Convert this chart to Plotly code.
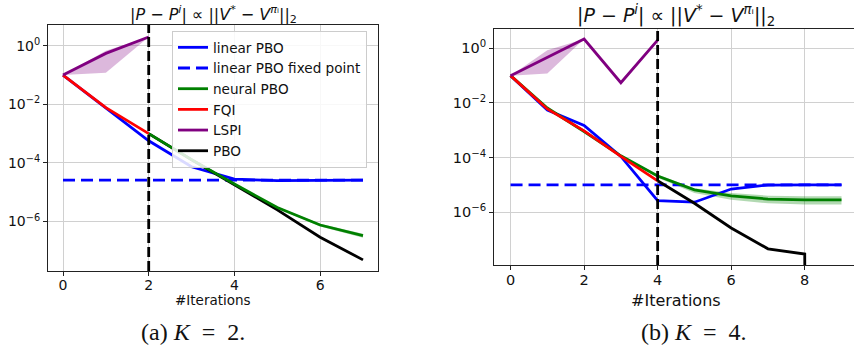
import plotly.graph_objects as go
import numpy as np

# ---------------- data ----------------
# Left panel (K = 2)
K_left = 2
x_left = [0, 1, 2, 3, 4, 5, 6, 7]
lin_left = [0.1, 0.0075, 5.7e-4, 7.4e-5, 2.8e-5, 2.5e-5, 2.6e-5, 2.6e-5]
fixed_left = 2.6e-5
neural_x_left = [2, 3, 4, 5, 6, 7]
neural_left = [1.0e-3, 1.3e-4, 1.9e-5, 3.0e-6, 7.6e-7, 3.3e-7]
neural_lo_left = [1.0e-3, 1.25e-4, 1.8e-5, 2.8e-6, 6.8e-7, 2.8e-7]
neural_hi_left = [1.0e-3, 1.35e-4, 2.0e-5, 3.2e-6, 8.4e-7, 3.8e-7]
fqi_x_left = [0, 1, 2]
fqi_left = [0.1, 0.0077, 1.0e-3]
lspi_x_left = [0, 1, 2]
lspi_left = [0.1, 0.55, 2.0]
lspi_lo_left = [0.1, 0.12, 2.0]
lspi_hi_left = [0.1, 0.68, 2.0]
pbo_x_left = [2, 3, 4, 5, 6, 7]
pbo_left = [1.0e-3, 1.28e-4, 1.8e-5, 2.5e-6, 2.9e-7, 4.9e-8]

# Right panel (K = 4)
K_right = 4
x_right = [0, 1, 2, 3, 4, 5, 6, 7, 8, 9]
lin_right = [0.1, 0.0055, 1.5e-3, 1.1e-4, 2.6e-6, 2.3e-6, 7.0e-6, 9.8e-6, 1.0e-5, 1.0e-5]
fixed_right = 1.0e-5
neural_right = [0.1, 0.0065, 9.0e-4, 1.15e-4, 2.1e-5, 6.5e-6, 3.9e-6, 3.0e-6, 2.8e-6, 2.8e-6]
neural_lo_right = [0.1, 0.0062, 8.6e-4, 1.1e-4, 1.8e-5, 5.0e-6, 2.8e-6, 2.1e-6, 1.9e-6, 1.9e-6]
neural_hi_right = [0.1, 0.0068, 9.4e-4, 1.2e-4, 2.4e-5, 7.5e-6, 5.0e-6, 4.0e-6, 3.8e-6, 3.8e-6]
fqi_x_right = [0, 1, 2, 3, 4]
fqi_right = [0.1, 0.006, 9.5e-4, 1.1e-4, 1.4e-5]
lspi_x_right = [0, 1, 2, 3, 4]
lspi_right = [0.1, 0.47, 2.2, 0.055, 2.0]
lspi_lo_right = [0.1, 0.12, 2.2, 0.055, 2.0]
lspi_hi_right = [0.1, 0.85, 2.2, 0.055, 2.0]
pbo_x_right = [4, 5, 6, 7, 8, 9]
pbo_right = [1.4e-5, 2.1e-6, 2.6e-7, 4.5e-8, 2.9e-8, 0.0]

ytick_vals = [1, 1e-2, 1e-4, 1e-6]
ytick_text = ["10<sup>0</sup>", "10<sup>−2</sup>", "10<sup>−4</sup>", "10<sup>−6</sup>"]
xticks_left = [0, 2, 4, 6]
xticks_right = [0, 2, 4, 6, 8]
names = ["linear PBO", "linear PBO fixed point", "neural PBO", "FQI", "LSPI", "PBO"]
title_text = "|<i>P</i> − <i>P<sup>i</sup></i>| ∝ ||<i>V</i><sup>*</sup> − <i>V</i><sup><i>π</i>ᵢ</sup>||<sub>2</sub>"
captions = ["(a) <i>K</i>\u00a0 =\u00a0 2.", "(b) <i>K</i>\u00a0 =\u00a0 4."]

# ---------------- styling ----------------
BLUE = "#0000ff"
GREEN = "#008000"
RED = "#ff0000"
PURPLE = "#800080"
BLACK = "#000000"
LW = 2.8
FONT = "DejaVu Sans"


def clip(v):
    # mimic matplotlib's log 'clip' behaviour for non-positive values
    return [x if x > 0 else 1e-300 for x in v]


fig = go.Figure()


def band(x, lo, hi, color, xa, ya):
    fig.add_trace(go.Scatter(x=x, y=lo, mode="lines", line=dict(width=0), hoverinfo="skip",
                             showlegend=False, xaxis=xa, yaxis=ya))
    fig.add_trace(go.Scatter(x=x, y=hi, mode="lines", line=dict(width=0), fill="tonexty",
                             fillcolor=color, hoverinfo="skip", showlegend=False, xaxis=xa, yaxis=ya))


def line(x, y, color, name, xa, ya, show, rank, dash="solid"):
    fig.add_trace(go.Scatter(x=x, y=clip(y), mode="lines", name=name,
                             line=dict(color=color, width=LW, dash=dash), legendrank=rank,
                             showlegend=show, xaxis=xa, yaxis=ya))


# left panel
band(lspi_x_left, lspi_lo_left, lspi_hi_left, "rgba(128,0,128,0.28)", "x", "y")
band(neural_x_left, neural_lo_left, neural_hi_left, "rgba(0,128,0,0.3)", "x", "y")
line(x_left, lin_left, BLUE, names[0], "x", "y", True, 1)
line(x_left, [fixed_left] * len(x_left), BLUE, names[1], "x", "y", True, 2, dash="12px,6px")
line(pbo_x_left, pbo_left, BLACK, names[5], "x", "y", True, 6)
line(neural_x_left, neural_left, GREEN, names[2], "x", "y", True, 3)
line(fqi_x_left, fqi_left, RED, names[3], "x", "y", True, 4)
line(lspi_x_left, lspi_left, PURPLE, names[4], "x", "y", True, 5)

# right panel
band(lspi_x_right, lspi_lo_right, lspi_hi_right, "rgba(128,0,128,0.28)", "x2", "y2")
band(x_right, neural_lo_right, neural_hi_right, "rgba(0,128,0,0.3)", "x2", "y2")
line(x_right, lin_right, BLUE, names[0], "x2", "y2", False, 1)
line(x_right, [fixed_right] * len(x_right), BLUE, names[1], "x2", "y2", False, 2, dash="12px,6px")
line(pbo_x_right, pbo_right, BLACK, names[5], "x2", "y2", False, 6)
line(x_right, neural_right, GREEN, names[2], "x2", "y2", False, 3)
line(fqi_x_right, fqi_right, RED, names[3], "x2", "y2", False, 4)
line(lspi_x_right, lspi_right, PURPLE, names[4], "x2", "y2", False, 5)

W, H = 854, 349


def axis_common(fs):
    return dict(showgrid=True, gridcolor="#d0d0d0", gridwidth=1, showline=True,
                linecolor="#222222", linewidth=1, ticks="outside", ticklen=4,
                tickcolor="#222222", tickfont=dict(family=FONT, size=fs, color="#111"),
                zeroline=False)


fig.update_layout(
    width=W, height=H, margin=dict(l=0, r=0, t=0, b=0),
    paper_bgcolor="white", plot_bgcolor="white",
    font=dict(family=FONT, color="#111"),
    showlegend=True,
    legend=dict(x=172 / W, y=1 - 31 / H, xanchor="left", yanchor="top", traceorder="normal",
                bgcolor="rgba(255,255,255,0.85)", bordercolor="#cccccc", borderwidth=1,
                font=dict(family=FONT, size=13.6, color="#111"), tracegroupgap=0),
    xaxis=dict(domain=[48 / W, 378 / W], range=[-0.35, 7.35], tickvals=xticks_left,
               anchor="y", mirror=True, ticklabelstandoff=-3, **axis_common(14)),
    yaxis=dict(domain=[1 - 271 / H, 1 - 25 / H], type="log", range=[-7.69, 0.71],
               tickvals=ytick_vals, ticktext=ytick_text, anchor="x", mirror=True, **axis_common(14)),
    xaxis2=dict(domain=[494 / W, 1.0], range=[-0.45, 9.34], tickvals=xticks_right,
                anchor="y2", mirror=True, ticklabelstandoff=-2, **axis_common(14.5)),
    yaxis2=dict(domain=[1 - 265 / H, 1 - 29 / H], type="log", range=[-7.94, 0.71],
                tickvals=ytick_vals, ticktext=ytick_text, anchor="x2", mirror=False, **axis_common(14.5)),
)

# K vertical dashed lines
for K, xa, ya in [(K_left, "x", "y"), (K_right, "x2", "y2")]:
    fig.add_shape(type="line", xref=xa, yref=ya + " domain", x0=K, x1=K, y0=0, y1=1,
                  line=dict(color="black", width=2.8, dash="10px,4px"))

# titles, axis labels, captions
ann = []
for cx, ty, fs in [(213, 14, 16), (676, 15, 19)]:
    ann.append(dict(text=title_text, x=cx / W, y=1 - ty / H, xref="paper", yref="paper",
                    showarrow=False, xanchor="center", yanchor="middle",
                    font=dict(family=FONT, size=fs, color="#111")))
for cx, ty, fs in [(213, 300, 13.5), (676, 300, 16)]:
    ann.append(dict(text="#Iterations", x=cx / W, y=1 - ty / H, xref="paper", yref="paper",
                    showarrow=False, xanchor="center", yanchor="middle",
                    font=dict(family=FONT, size=fs, color="#111")))
for cap, cx in zip(captions, [193, 694]):
    ann.append(dict(text=cap, x=cx / W, y=1 - 332 / H, xref="paper", yref="paper",
                    showarrow=False, xanchor="center", yanchor="middle",
                    font=dict(family="Liberation Serif", size=24, color="#111")))
fig.update_layout(annotations=ann)

fig.write_html("out.html")
